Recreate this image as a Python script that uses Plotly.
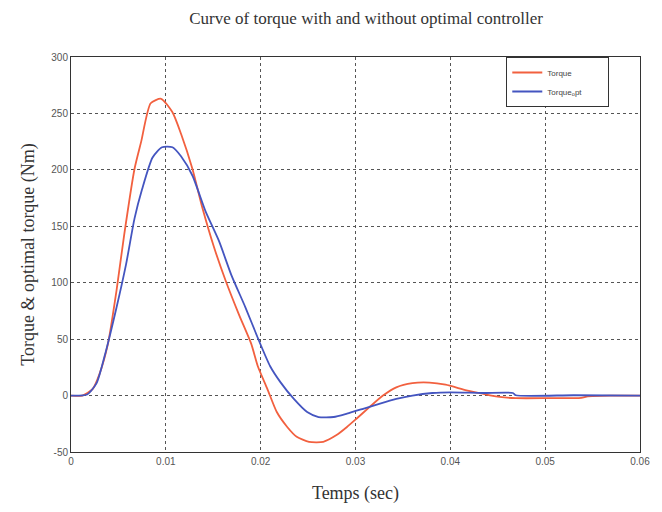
import plotly.graph_objects as go

# Torque (without optimal controller)
t_torque = [0, 0.0012, 0.0023, 0.0030, 0.0039, 0.0048, 0.0056, 0.0067, 0.0074, 0.0084,
            0.0095, 0.0107, 0.0116, 0.0128, 0.0138, 0.0151, 0.0163, 0.0177, 0.0190, 0.0197,
            0.0207, 0.0217, 0.0228, 0.0238, 0.0251, 0.0266, 0.0280, 0.0291, 0.0301, 0.0315,
            0.0329, 0.0343, 0.0360, 0.0378, 0.0395, 0.0417, 0.0434, 0.0452, 0.0469, 0.0503,
            0.0538, 0.0545, 0.0570, 0.0600]
torque = [0, 0, 6, 19, 46, 93, 142, 201, 225, 259,
          263, 251, 232, 201, 168, 131, 102, 72, 46, 26,
          6, -14.6, -27.8, -36.5, -41, -41, -35, -27.8, -20.5, -10,
          0, 7.3, 11, 11.5, 9.6, 4.7, 1.7, -1.2, -2.3, -2.3,
          -2, -0.6, 0, 0]

# Torque with optimal controller
t_opt = [0, 0.0017, 0.0027, 0.0037, 0.0048, 0.0058, 0.0067, 0.0075, 0.0086, 0.0096,
         0.0107, 0.0116, 0.0128, 0.0142, 0.0156, 0.0169, 0.0184, 0.0198, 0.0210, 0.0221,
         0.0235, 0.0249, 0.0261, 0.0277, 0.0291, 0.0308, 0.0325, 0.0343, 0.0360, 0.0381,
         0.0400, 0.0434, 0.0466, 0.0469, 0.0530, 0.0600]
torque_opt = [0, 1, 11, 40, 78, 116, 157, 183, 211, 220,
              220, 212, 195, 163, 137, 107, 78, 49, 26, 11.7,
              -3, -14.6, -19, -19, -16, -11.7, -7.3, -3, 0, 2.3,
              2.9, 2.3, 2.3, 0.3, 0.3, 0]

x_ticks = [0, 0.01, 0.02, 0.03, 0.04, 0.05, 0.06]
x_labels = ["0", "0.01", "0.02", "0.03", "0.04", "0.05", "0.06"]
y_ticks = [-50, 0, 50, 100, 150, 200, 250, 300]
y_labels = ["-50", "0", "50", "100", "150", "200", "250", "300"]

fig = go.Figure()
fig.add_trace(go.Scatter(x=t_torque, y=torque, mode="lines", name="Torque" + "&nbsp;" * 14,
                         line=dict(color="#f2603f", width=1.8, shape="spline", smoothing=0.6)))
fig.add_trace(go.Scatter(x=t_opt, y=torque_opt, mode="lines", name="Torque<sub>o</sub>pt",
                         line=dict(color="#4455c0", width=1.8, shape="spline", smoothing=0.6)))

serif = "Liberation Serif, Times New Roman"
axis_common = dict(showline=True, linecolor="#333", linewidth=1, mirror=True,
                   showgrid=True, gridcolor="#555", griddash="dot", gridwidth=1,
                   zeroline=False, ticks="", tickfont=dict(family="Liberation Sans, Arial", size=10, color="#555"))

fig.update_layout(
    width=662, height=512,
    margin=dict(l=71, r=17, t=57, b=55),
    paper_bgcolor="white", plot_bgcolor="white",
    title=dict(text="Curve of torque with and without optimal controller",
               x=0.553, xanchor="center", y=0.965, yanchor="middle",
               font=dict(family=serif, size=17, color="#333")),
    xaxis=dict(range=[0, 0.06], tickvals=x_ticks, ticktext=x_labels,
               title=dict(text="Temps (sec)", standoff=20,
                          font=dict(family=serif, size=18, color="#333")),
               **axis_common),
    yaxis=dict(range=[-50, 300], tickvals=y_ticks, ticktext=y_labels,
               title=dict(text="Torque &amp; optimal torque (Nm)", standoff=12,
                          font=dict(family=serif, size=18, color="#333")),
               **axis_common),
    legend=dict(x=0.765, y=1.0, xanchor="left", yanchor="top",
                bgcolor="white", bordercolor="#333", borderwidth=1,
                font=dict(family="Liberation Sans, Arial", size=8, color="#444"),
                tracegroupgap=0, itemwidth=30),
    showlegend=True,
)

fig.write_html("out.html")
